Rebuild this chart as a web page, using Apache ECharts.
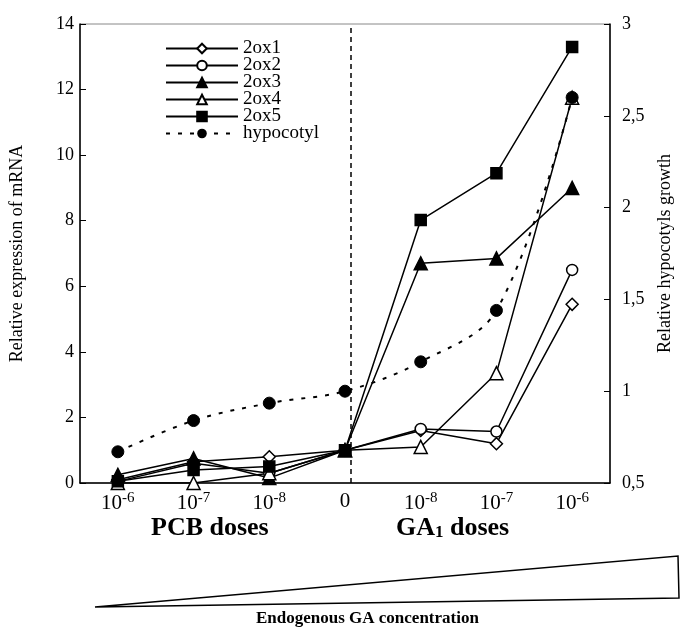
<!DOCTYPE html>
<html>
<head>
<meta charset="utf-8">
<script src="https://cdn.jsdelivr.net/npm/echarts@6/dist/echarts.min.js"></script>
<style>
html, body { margin: 0; padding: 0; background: #fff; }
#main { width: 683px; height: 631px; }
</style>
</head>
<body>
<div id="main"></div>
<script>
// doses, PCB on the left, GA1 on the right
var categories = ["10-6", "10-7", "10-8", "0", "10-8", "10-7", "10-6"];
var leftTicks = [0, 2, 4, 6, 8, 10, 12, 14];
var rightTicks = [0.5, 1, 1.5, 2, 2.5, 3];

// relative expression of mRNA
var ox1 = [0.1, 0.65, 0.8, 1.0, 1.6, 1.2, 5.45];
var ox2 = [0.05, 0.6, 0.3, 1.0, 1.65, 1.57, 6.5];
var ox3 = [0.25, 0.75, 0.15, 1.0, 6.7, 6.85, 9.0];
var ox4 = [0.0, 0.0, 0.3, 1.0, 1.1, 3.35, 11.75];
var ox5 = [0.05, 0.4, 0.5, 1.0, 8.02, 9.45, 13.3];
// relative hypocotyls growth (right axis)
var hypocotyl = [0.67, 0.84, 0.935, 1.0, 1.16, 1.44, 2.6];

var serif = "Liberation Serif";
var myChart = echarts.init(document.getElementById("main"));

function geneSeries(name, data, symbol, filled, size) {
    return {
        name: name,
        type: "line",
        data: data,
        symbol: symbol,
        symbolSize: size,
        lineStyle: { color: "#000", width: 1.5 },
        itemStyle: { color: filled ? "#000" : "#fff", borderColor: "#000", borderWidth: 1.5 },
        emphasis: { disabled: true }
    };
}

var option = {
    animation: false,
    textStyle: { fontFamily: serif, color: "#000" },
    grid: { left: 80, right: 73, top: 24, bottom: 148, show: true, borderColor: "#888", borderWidth: 1 },
    legend: {
        orient: "vertical",
        left: 160,
        top: 34,
        itemWidth: 72,
        itemHeight: 12,
        itemGap: -2,
        textStyle: { fontFamily: serif, fontSize: 19, color: "#000" },
        data: ["2ox1", "2ox2", "2ox3", "2ox4", "2ox5", "hypocotyl"]
    },
    xAxis: [
        {
            type: "category",
            data: categories,
            boundaryGap: true,
            axisLine: { lineStyle: { color: "#000", width: 1.5 } },
            axisTick: { show: false },
            axisLabel: {
                interval: 0,
                margin: 8,
                formatter: function (v) {
                    if (v === "0") return "{b|0}";
                    return "{b|10}{s|" + v.slice(2) + "}";
                },
                rich: {
                    b: { fontFamily: serif, fontSize: 21, color: "#000" },
                    s: { fontFamily: serif, fontSize: 15, color: "#000", padding: [0, 0, 10, 0] }
                }
            }
        },
        { type: "value", min: 0, max: 7, show: false }
    ],
    yAxis: [
        {
            type: "value",
            min: 0,
            max: 14,
            interval: 2,
            name: "Relative expression of mRNA",
            nameLocation: "middle",
            nameGap: 54,
            nameTextStyle: { fontFamily: serif, fontSize: 18, color: "#000" },
            axisLine: { show: true, lineStyle: { color: "#000", width: 1.5 } },
            axisTick: { show: true, inside: true, length: 6, lineStyle: { color: "#000" } },
            axisLabel: { fontFamily: serif, fontSize: 18, color: "#000", margin: 6 },
            splitLine: { show: false }
        },
        {
            type: "value",
            min: 0.5,
            max: 3,
            interval: 0.5,
            position: "right",
            name: "Relative hypocotyls growth",
            nameLocation: "middle",
            nameGap: 46,
            nameRotate: 90,
            nameTextStyle: { fontFamily: serif, fontSize: 18, color: "#000" },
            axisLine: { show: true, lineStyle: { color: "#000", width: 1.5 } },
            axisTick: { show: true, inside: true, length: 6, lineStyle: { color: "#000" } },
            axisLabel: {
                fontFamily: serif, fontSize: 18, color: "#000", margin: 12,
                formatter: function (v) { return String(v).replace(".", ","); }
            },
            splitLine: { show: false }
        }
    ],
    series: [
        geneSeries("2ox1", ox1, "diamond", false, 12),
        geneSeries("2ox2", ox2, "circle", false, 11),
        geneSeries("2ox3", ox3, "triangle", true, 13),
        geneSeries("2ox4", ox4, "triangle", false, 13),
        geneSeries("2ox5", ox5, "rect", true, 11),
        {
            name: "hypocotyl",
            type: "line",
            yAxisIndex: 1,
            data: hypocotyl,
            smooth: 0.35,
            symbol: "circle",
            symbolSize: 12,
            lineStyle: { color: "#000", width: 2, type: [4, 8] },
            itemStyle: { color: "#000", borderColor: "#000" },
            emphasis: { disabled: true }
        },
        {
            // divider between PCB and GA1 doses
            type: "line",
            xAxisIndex: 1,
            data: [],
            silent: true,
            markLine: {
                symbol: "none",
                silent: true,
                label: { show: false },
                lineStyle: { color: "#000", width: 1.5, type: [5, 4] },
                data: [{ xAxis: 3.58 }]
            }
        }
    ],
    graphic: [
        { type: "text", left: 151, top: 515, style: { text: "PCB doses", font: "bold 26px " + serif, fill: "#000" } },
        {
            type: "text", left: 396, top: 515,
            style: {
                text: "{g|GA}{i|1}{g| doses}",
                rich: {
                    g: { font: "bold 26px " + serif, fill: "#000" },
                    i: { font: "bold 17px " + serif, fill: "#000", padding: [9, 0, 0, 0] }
                }
            }
        },
        {
            type: "polygon",
            shape: { points: [[95, 607], [678, 556], [679, 598]] },
            style: { fill: "#fff", stroke: "#000", lineWidth: 1.5 }
        },
        { type: "text", left: 256, top: 610, style: { text: "Endogenous GA concentration", font: "bold 17px " + serif, fill: "#000" } }
    ]
};

myChart.setOption(option);
</script>
</body>
</html>
